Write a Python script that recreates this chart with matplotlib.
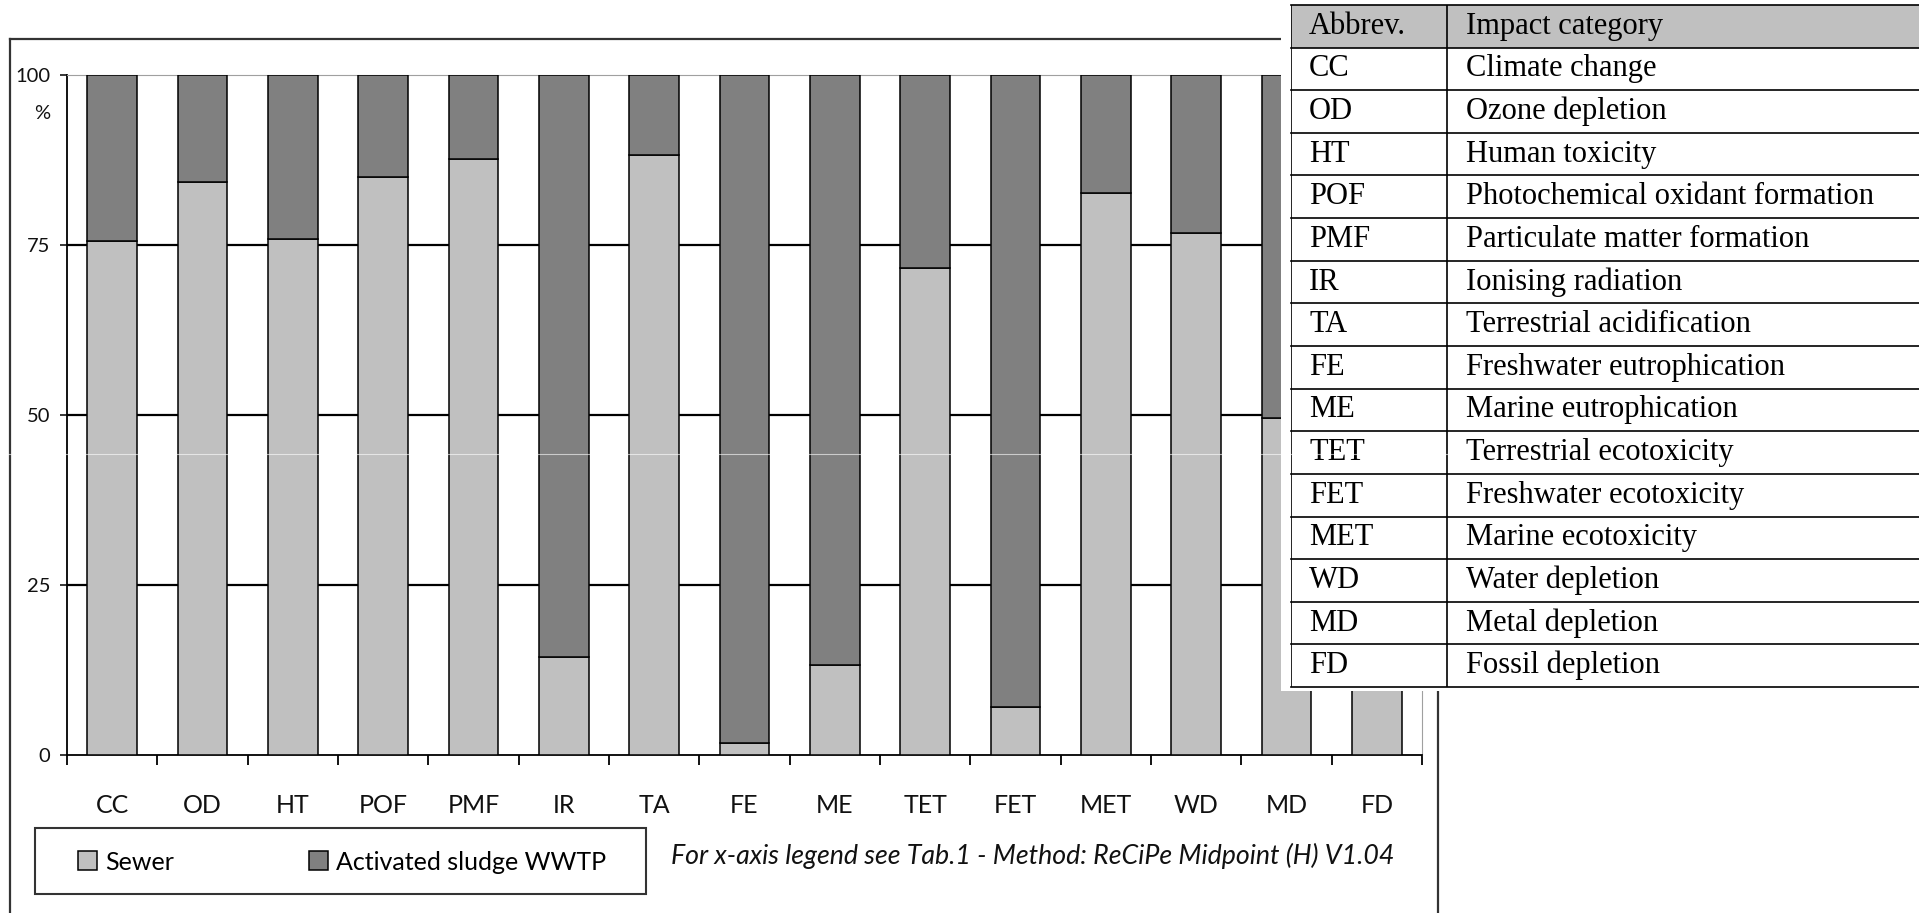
import numpy as np
import matplotlib.pyplot as plt
from matplotlib.patches import Rectangle, Patch
from matplotlib.lines import Line2D

# data
abbrev = ['CC', 'OD', 'HT', 'POF', 'PMF', 'IR', 'TA', 'FE', 'ME', 'TET', 'FET', 'MET', 'WD', 'MD', 'FD']
category_names = ['Climate change', 'Ozone depletion', 'Human toxicity', 'Photochemical oxidant formation',
                  'Particulate matter formation', 'Ionising radiation', 'Terrestrial acidification',
                  'Freshwater eutrophication', 'Marine eutrophication', 'Terrestrial ecotoxicity',
                  'Freshwater ecotoxicity', 'Marine ecotoxicity', 'Water depletion', 'Metal depletion',
                  'Fossil depletion']
sewer = [75.6, 84.3, 75.9, 85.0, 87.6, 14.4, 88.2, 1.7, 13.3, 71.6, 7.0, 82.6, 76.7, 49.5, 90.0]
wwtp = [100 - v for v in sewer]
y_ticks = [0, 25, 50, 75, 100]
table_header = ['Abbrev.', 'Impact category']
note = 'For x-axis legend see Tab.1 - Method: ReCiPe Midpoint (H) V1.04'

W, H = 1919, 913
def fx(px):
    return px / W
def fy(py):
    return 1 - py / H

light = '#c0c0c0'
dark = '#808080'
sans = ['Lato', 'DejaVu Sans']
serif = ['Liberation Serif', 'DejaVu Serif']

fig = plt.figure(figsize=(W / 100, H / 100), dpi=100)

# outer frame (under the table)
for xs, ys in [([10, 10], [39, 920]), ([10, 1438], [39, 39]), ([1438, 1438], [39, 920])]:
    fig.add_artist(Line2D([fx(v) for v in xs], [fy(v) for v in ys], color='#333333', lw=1.6, zorder=-1))

ax = fig.add_axes([fx(67), fy(755), fx(1422) - fx(67), fy(75) - fy(755)])
ax.set_facecolor('none')
x = np.arange(len(abbrev))
ax.bar(x, sewer, width=0.55, color=light, edgecolor='black', linewidth=1.1, zorder=3)
ax.bar(x, wwtp, bottom=sewer, width=0.55, color=dark, edgecolor='black', linewidth=1.1, zorder=3)
for v in [25, 50, 75]:
    ax.axhline(v, color='black', lw=1.6, zorder=1)
ax.set_xlim(-0.5, 14.5)
ax.set_ylim(0, 100)

ax.spines['top'].set_color('#a0a0a0')
ax.spines['right'].set_color('#a0a0a0')
ax.spines['left'].set_linewidth(1.3)
ax.spines['bottom'].set_linewidth(1.3)

ax.set_yticks(y_ticks)
ax.set_yticklabels([str(v) for v in y_ticks], family=sans, fontsize=14.5, color='#111111')
ax.tick_params(axis='y', length=5, width=1.1, pad=7)
ax.set_xticks(x)
ax.set_xticklabels(abbrev, family=sans, fontsize=18, color='#111111')
ax.set_xticks(np.arange(-0.5, 15, 1), minor=True)
ax.tick_params(axis='x', which='major', length=0, pad=28)
ax.tick_params(axis='x', which='minor', length=7, width=1.3, direction='out')
ax.text(-0.0125, 94.3, '%', transform=ax.get_yaxis_transform(), ha='right', va='center',
        family=sans, fontsize=14.5, color='#111111')

# legend box
fig.add_artist(Rectangle((fx(35), fy(894)), fx(646) - fx(35), fy(828) - fy(894),
                         transform=fig.transFigure, fill=False, edgecolor='#333333', lw=1.5))
handles = [Patch(facecolor=light, edgecolor='black', lw=1.1, label='Sewer'),
           Patch(facecolor=dark, edgecolor='black', lw=1.1, label='Activated sludge WWTP')]
fig.legend(handles=handles, loc='center left', bbox_to_anchor=(fx(78), fy(862)), ncol=2,
           frameon=False, borderpad=0, borderaxespad=0, handlelength=0.77, handleheight=0.8,
           handletextpad=0.32, columnspacing=5.4, prop={'family': sans, 'size': 18})
fig.text(fx(671), fy(856), note, ha='left', va='center', fontsize=19.3, style='italic', family=sans,
         color='#111111')

# abbreviation table on top right
tax = fig.add_axes([fx(1291), fy(687), 1 - fx(1291), fy(5) - fy(687)])
tax.set_xlim(0, W - 1291)
tax.set_ylim(16, 0)
tax.set_facecolor('white')
tax.axis('off')
tax.add_patch(Rectangle((-10, -0.1), W, 16.2, facecolor='white', edgecolor='none', clip_on=False))
tax.add_patch(Rectangle((0, 0), W, 1, facecolor=light, edgecolor='none'))
col_x = 1447 - 1291
for r in range(17):
    tax.plot([0, W], [r, r], color='black', lw=1.2, clip_on=False)
tax.plot([0, 0], [0, 16], color='black', lw=1.2)
tax.plot([col_x, col_x], [0, 16], color='black', lw=1.2)
rows = [table_header] + [[a, n] for a, n in zip(abbrev, category_names)]
for r, (a, n) in enumerate(rows):
    tax.text(18, r + 0.5, a, ha='left', va='center', family=serif, fontsize=22)
    tax.text(col_x + 19, r + 0.5, n, ha='left', va='center', family=serif, fontsize=22)

# faint scan line across the page
fig.add_artist(Line2D([0, fx(1448)], [fy(454), fy(454)], color='white', alpha=0.6, lw=0.8, zorder=10))

fig.savefig('out.png', dpi=100)
